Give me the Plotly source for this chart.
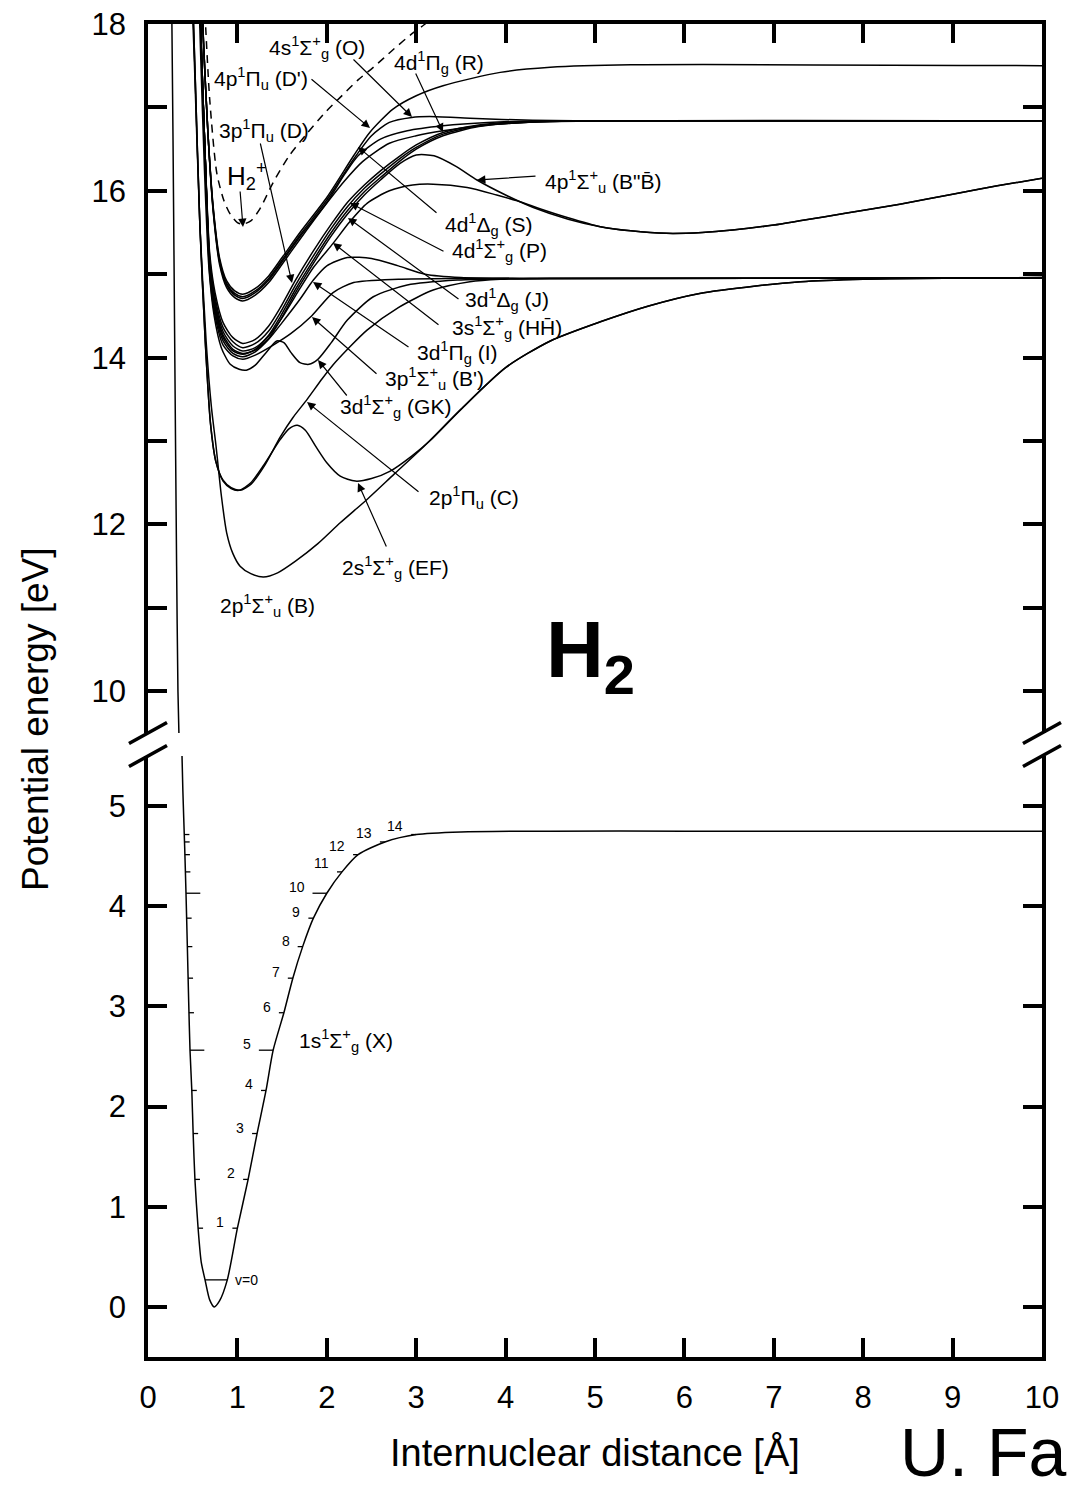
import plotly.graph_objects as go

# ---------------- data ----------------
x_tickvals = [0, 1, 2, 3, 4, 5, 6, 7, 8, 9, 10]
y_low_tickvals = [0, 1, 2, 3, 4, 5]
y_high_tickvals = [10, 11, 12, 13, 14, 15, 16, 17, 18]
y_high_ticktext = ['10', '', '12', '', '14', '', '16', '', '18']

# ground state X (lower panel)
x_X = [0.375, 0.39, 0.41, 0.425, 0.44, 0.455, 0.47, 0.49, 0.505, 0.525, 0.56, 0.595, 0.638, 0.69, 0.74,
       0.80, 0.887, 1.0, 1.12, 1.22, 1.32, 1.40, 1.52, 1.62, 1.73, 1.85, 2.0, 2.17, 2.35, 2.65, 3.0,
       3.5, 4.5, 6.0, 8.0, 10.0]
E_X = [5.7, 5.15, 4.6, 4.13, 3.6, 3.05, 2.56, 2.16, 1.73, 1.27, 0.79, 0.45, 0.27, 0.07, 0.0,
       0.06, 0.27, 0.786, 1.273, 1.731, 2.161, 2.563, 2.937, 3.282, 3.597, 3.881, 4.13, 4.343, 4.515, 4.642, 4.716,
       4.742, 4.75, 4.75, 4.75, 4.75]
# ground state X inner wall (upper panel)
x_X_up = [0.262, 0.28, 0.30, 0.32, 0.335, 0.35]
E_X_up = [18.6, 16.6, 14.0, 11.5, 10.0, 9.3]

# vibrational levels of X
vib_v = list(range(15))
vib_E = [0.27, 0.786, 1.273, 1.731, 2.161, 2.563, 2.937, 3.282, 3.597, 3.881, 4.13, 4.343, 4.515, 4.642, 4.716]
vib_inner = [0.638, 0.56, 0.525, 0.505, 0.49, 0.47, 0.458, 0.448, 0.44, 0.432, 0.425, 0.418, 0.413, 0.41, 0.407]
vib_outer = [0.887, 1.0, 1.12, 1.22, 1.32, 1.40, 1.52, 1.62, 1.73, 1.85, 2.0, 2.17, 2.35, 2.65, 3.0]

# n = 2 states
x_B = [0.47, 0.52, 0.58, 0.65, 0.71, 0.76, 0.82, 0.88, 0.95, 1.03, 1.15, 1.29, 1.45, 1.65, 1.90, 2.15, 2.45,
       2.75, 3.10, 3.50, 4.00, 4.50, 5.06, 5.60, 6.17, 6.80, 7.30, 8.00, 8.60, 9.20, 10.0]
E_B = [19.0, 17.5, 15.6, 14.2, 13.4, 12.95, 12.35, 11.9, 11.65, 11.5, 11.41, 11.37, 11.42, 11.56, 11.77, 12.02, 12.3,
       12.6, 12.95, 13.38, 13.88, 14.2, 14.43, 14.62, 14.77, 14.86, 14.91, 14.94, 14.95, 14.955, 14.96]
x_C = [0.48, 0.53, 0.58, 0.64, 0.70, 0.76, 0.84, 0.93, 1.03, 1.15, 1.30, 1.48, 1.62, 1.78, 1.95, 2.10, 2.45,
       2.80, 3.19, 3.60, 3.94, 4.50, 10.0]
E_C = [19.0, 17.3, 15.6, 14.2, 13.2, 12.75, 12.53, 12.44, 12.41, 12.48, 12.7, 13.05, 13.28, 13.5, 13.75, 13.95, 14.33,
       14.6, 14.81, 14.91, 14.94, 14.95, 14.955]
x_EF = [0.48, 0.53, 0.58, 0.64, 0.70, 0.76, 0.84, 0.93, 1.02, 1.15, 1.30, 1.48, 1.58, 1.67, 1.76, 1.88, 2.00,
        2.15, 2.32, 2.50, 2.71, 2.95, 3.15, 3.50, 4.00, 4.50, 5.06, 5.60, 6.17, 6.80, 7.30, 8.00, 8.60, 9.20, 10.0]
E_EF = [19.0, 17.3, 15.6, 14.2, 13.2, 12.75, 12.52, 12.43, 12.41, 12.5, 12.72, 13.02, 13.15, 13.19, 13.13, 12.93, 12.74,
        12.58, 12.52, 12.55, 12.64, 12.82, 13.0, 13.38, 13.88, 14.2, 14.43, 14.62, 14.77, 14.86, 14.91, 14.94, 14.95,
        14.955, 14.96]

# n = 3 states
x_GK = [0.55, 0.59, 0.63, 0.68, 0.74, 0.82, 0.92, 1.02, 1.10, 1.20, 1.32, 1.44, 1.52, 1.60, 1.70, 1.80, 1.90,
        2.05, 2.23, 2.52, 2.90, 3.46, 4.27, 10.0]
E_GK = [19.0, 17.6, 16.3, 15.1, 14.5, 14.12, 13.92, 13.86, 13.85, 13.91, 14.06, 14.2, 14.18, 14.06, 13.94, 13.92, 13.98,
        14.18, 14.45, 14.73, 14.87, 14.93, 14.95, 14.955]
x_Bp = [0.56, 0.60, 0.64, 0.69, 0.75, 0.84, 0.95, 1.06, 1.20, 1.40, 1.60, 1.83, 2.07, 2.30, 2.80, 3.50, 10.0]
E_Bp = [19.0, 17.6, 16.4, 15.0, 14.5, 14.15, 14.02, 13.98, 14.03, 14.15, 14.29, 14.5, 14.78, 14.9, 14.94, 14.95, 14.955]
x_I = [0.56, 0.60, 0.64, 0.69, 0.75, 0.84, 0.95, 1.06, 1.20, 1.35, 1.50, 1.70, 1.85, 2.00, 2.23, 2.50, 2.80,
       3.10, 3.50, 4.20, 10.0]
E_I = [19.0, 17.6, 16.4, 15.05, 14.55, 14.2, 14.05, 14.01, 14.07, 14.22, 14.42, 14.7, 14.93, 15.1, 15.2, 15.19, 15.1,
       15.0, 14.96, 14.95, 14.955]
x_HH = [0.56, 0.60, 0.64, 0.69, 0.75, 0.84, 0.95, 1.06, 1.20, 1.35, 1.50, 1.70, 1.85, 2.07, 2.25, 2.45, 2.70,
        2.96, 3.19, 3.57, 3.90, 4.13, 4.40, 4.69, 5.06, 5.40, 5.80, 6.20, 6.54, 7.00, 7.29, 7.80, 8.41, 9.00,
        9.50, 10.0]
E_HH = [19.0, 17.6, 16.4, 15.1, 14.6, 14.24, 14.08, 14.04, 14.1, 14.26, 14.48, 14.83, 15.08, 15.37, 15.62, 15.85, 16.0,
        16.07, 16.08, 16.04, 15.95, 15.88, 15.78, 15.68, 15.57, 15.52, 15.49, 15.5, 15.53, 15.59, 15.64, 15.73, 15.84,
        15.96, 16.06, 16.15]
x_n3 = [0.56, 0.60, 0.64, 0.69, 0.75, 0.84, 0.95, 1.06, 1.20, 1.35, 1.48, 1.65, 1.85, 2.05, 2.23, 2.42, 2.60,
        2.82, 3.00, 3.30, 3.70, 4.20, 5.00, 10.0]
E_D = [19.0, 17.6, 16.4, 15.25, 14.78, 14.42, 14.24, 14.17, 14.22, 14.38, 14.6, 14.93, 15.28, 15.6, 15.86, 16.07, 16.24,
       16.42, 16.55, 16.7, 16.79, 16.83, 16.84, 16.84]
E_J = [19.0, 17.6, 16.4, 15.2, 14.72, 14.36, 14.19, 14.12, 14.17, 14.32, 14.54, 14.87, 15.22, 15.55, 15.81, 16.03, 16.2,
       16.39, 16.52, 16.68, 16.78, 16.82, 16.84, 16.84]
E_P = [19.0, 17.6, 16.4, 15.15, 14.67, 14.31, 14.14, 14.08, 14.12, 14.27, 14.49, 14.82, 15.17, 15.5, 15.76, 15.99, 16.16,
       16.36, 16.5, 16.66, 16.77, 16.82, 16.84, 16.84]
x_Bpp = [0.56, 0.60, 0.64, 0.69, 0.75, 0.84, 0.95, 1.06, 1.20, 1.35, 1.48, 1.65, 1.85, 2.05, 2.23, 2.42, 2.60,
         2.82, 3.00, 3.20, 3.45, 3.68, 4.00, 4.31, 4.70, 5.06, 5.40, 5.80, 6.20, 6.54, 7.00, 7.29, 7.80, 8.41,
         9.00, 9.50, 10.0]
E_Bpp = [19.0, 17.6, 16.4, 15.1, 14.62, 14.27, 14.1, 14.05, 14.09, 14.23, 14.45, 14.78, 15.13, 15.46, 15.72, 15.95, 16.13,
         16.33, 16.43, 16.42, 16.29, 16.13, 15.95, 15.8, 15.66, 15.57, 15.52, 15.49, 15.5, 15.53, 15.59, 15.64, 15.73,
         15.84, 15.96, 16.06, 16.15]

# n = 4 states
x_Dp = [0.58, 0.62, 0.67, 0.73, 0.80, 0.88, 0.97, 1.06, 1.20, 1.35, 1.50, 1.70, 2.00, 2.30, 2.48, 2.74, 3.00,
        3.30, 3.94, 4.50, 5.40, 10.0]
E_Dp = [19.0, 17.8, 16.7, 15.8, 15.2, 14.92, 14.8, 14.76, 14.83, 14.98, 15.2, 15.5, 15.92, 16.42, 16.7, 16.98, 17.14,
        17.26, 17.42, 17.48, 17.51, 17.5]
x_O = [0.58, 0.62, 0.67, 0.73, 0.80, 0.88, 0.97, 1.06, 1.20, 1.35, 1.50, 1.70, 2.00, 2.30, 2.50, 2.70, 2.95,
       3.15, 3.60, 4.30, 5.00, 10.0]
E_O = [19.0, 17.8, 16.7, 15.78, 15.17, 14.89, 14.77, 14.73, 14.8, 14.95, 15.17, 15.47, 15.89, 16.38, 16.66, 16.82, 16.88,
       16.89, 16.87, 16.845, 16.84, 16.84]
x_R = [0.58, 0.62, 0.67, 0.73, 0.80, 0.88, 0.97, 1.06, 1.20, 1.35, 1.50, 1.70, 1.92, 2.20, 2.40, 2.70, 3.00,
       3.30, 3.80, 4.50, 10.0]
E_R = [19.0, 17.8, 16.7, 15.74, 15.12, 14.84, 14.72, 14.68, 14.75, 14.9, 15.12, 15.42, 15.74, 16.12, 16.35, 16.57, 16.66,
       16.72, 16.79, 16.83, 16.84]
x_S = [0.58, 0.62, 0.67, 0.73, 0.80, 0.88, 0.97, 1.06, 1.20, 1.35, 1.50, 1.70, 2.00, 2.20, 2.35, 2.60, 2.90,
       3.30, 3.80, 4.50, 10.0]
E_S = [19.0, 17.8, 16.7, 15.76, 15.15, 14.87, 14.75, 14.71, 14.78, 14.93, 15.15, 15.45, 15.86, 16.2, 16.42, 16.62, 16.72,
       16.78, 16.82, 16.84, 16.84]

# H2+ ion ground state (dashed)
x_ion = [0.63, 0.69, 0.77, 0.85, 0.92, 1.00, 1.06, 1.15, 1.25, 1.40, 1.58, 1.78, 2.00, 2.15, 2.35, 2.52, 2.75,
         2.96, 3.10, 3.30]
E_ion = [18.3, 17.1, 16.21, 15.88, 15.72, 15.62, 15.6, 15.64, 15.78, 16.1, 16.42, 16.69, 16.96, 17.12, 17.33, 17.48, 17.7,
         17.89, 18.0, 18.2]

state_texts = [
    '4s<sup>1</sup>Σ<sup>+</sup><sub>g</sub> (O)',
    "4p<sup>1</sup>Π<sub>u</sub> (D')",
    '4d<sup>1</sup>Π<sub>g</sub> (R)',
    '3p<sup>1</sup>Π<sub>u</sub> (D)',
    '4p<sup>1</sup>Σ<sup>+</sup><sub>u</sub> (B"B\u0304)',
    '4d<sup>1</sup>Δ<sub>g</sub> (S)',
    '4d<sup>1</sup>Σ<sup>+</sup><sub>g</sub> (P)',
    '3d<sup>1</sup>Δ<sub>g</sub> (J)',
    '3s<sup>1</sup>Σ<sup>+</sup><sub>g</sub> (HH\u0304)',
    '3d<sup>1</sup>Π<sub>g</sub> (I)',
    "3p<sup>1</sup>Σ<sup>+</sup><sub>u</sub> (B')",
    '3d<sup>1</sup>Σ<sup>+</sup><sub>g</sub> (GK)',
    '2p<sup>1</sup>Π<sub>u</sub> (C)',
    '2s<sup>1</sup>Σ<sup>+</sup><sub>g</sub> (EF)',
    '2p<sup>1</sup>Σ<sup>+</sup><sub>u</sub> (B)',
    '1s<sup>1</sup>Σ<sup>+</sup><sub>g</sub> (X)',
]
ion_text = 'H<sub>2</sub><sup>+</sup>'
molecule_text = '<b>H<sub>2</sub></b>'
x_title = 'Internuclear distance [Å]'
y_title = 'Potential energy [eV]'
author_text = 'U. Fantz'

# ---------------- figure ----------------
FW, FH = 1067, 1487
ML, MR, MT, MB = 148, 25, 24, 130
PW, PH = FW - ML - MR, FH - MT - MB
FONT = 'Liberation Sans'


def P(px, py):
    """pixel position in the page -> paper coordinates"""
    return (px - ML) / PW, (FH - MB - py) / PH


fig = go.Figure()

LINE = dict(color='black', width=1.5, shape='spline', smoothing=0.7)


def add_up(x, y, dash='solid'):
    fig.add_trace(go.Scatter(x=x, y=y, xaxis='x2', yaxis='y2', mode='lines',
                             line=dict(LINE, dash=dash), hoverinfo='skip', showlegend=False))


for xs, ys in [(x_X_up, E_X_up), (x_B, E_B), (x_C, E_C), (x_EF, E_EF), (x_GK, E_GK), (x_Bp, E_Bp),
               (x_I, E_I), (x_HH, E_HH), (x_n3, E_D), (x_n3, E_J), (x_n3, E_P), (x_Bpp, E_Bpp),
               (x_Dp, E_Dp), (x_O, E_O), (x_R, E_R), (x_S, E_S)]:
    add_up(xs, ys)
add_up(x_ion, E_ion, dash='8px,6px')

# lower panel: X state
fig.add_trace(go.Scatter(x=x_X, y=E_X, xaxis='x', yaxis='y', mode='lines', line=LINE,
                         hoverinfo='skip', showlegend=False))

# vibrational level markers
SHORT, LONG = 0.056, 0.16
vx, vy = [], []
for v, e, xi, xo in zip(vib_v, vib_E, vib_inner, vib_outer):
    if v == 0:
        vx += [xi, xo, None]
        vy += [e, e, None]
        continue
    ln = LONG if v in (5, 10) else SHORT
    vx += [xi, xi + ln, None, xo - ln, xo, None]
    vy += [e, e, None, e, e, None]
fig.add_trace(go.Scatter(x=vx, y=vy, xaxis='x', yaxis='y', mode='lines',
                         line=dict(color='black', width=1.3), hoverinfo='skip', showlegend=False))

annotations = []
for v, e, xo in zip(vib_v, vib_E, vib_outer):
    if v == 0:
        annotations.append(dict(x=xo, y=e, xref='x', yref='y', text='v=0', showarrow=False,
                                xanchor='left', yanchor='middle', xshift=6, font=dict(size=14)))
    else:
        ln = LONG if v in (5, 10) else SHORT
        annotations.append(dict(x=xo - ln, y=e, xref='x', yref='y', text=str(v), showarrow=False,
                                xanchor='right', yanchor='middle', xshift=-6, yshift=6 if v < 11 else 9,
                                font=dict(size=14)))

# state labels (left edge px, centre y px)
label_pos = [(267, 48), (212, 78), (392, 63), (217, 130), (543, 182), (443, 224), (450, 250),
             (463, 300), (450, 327), (415, 353), (383, 378), (338, 406), (427, 497), (340, 567),
             (218, 605), (297, 1040)]
for txt, (lx, ly) in zip(state_texts, label_pos):
    px_, py_ = P(lx, ly)
    annotations.append(dict(x=px_, y=py_, xref='paper', yref='paper', text=txt, showarrow=False,
                            xanchor='left', yanchor='middle', font=dict(size=21)))

ix, iy = P(225, 176)
annotations.append(dict(x=ix, y=iy, xref='paper', yref='paper', text=ion_text, showarrow=False,
                        xanchor='left', yanchor='middle', font=dict(size=26)))
hx, hy = P(590, 655)
annotations.append(dict(x=hx, y=hy, xref='paper', yref='paper', text=molecule_text, showarrow=False,
                        xanchor='center', yanchor='middle', font=dict(size=80)))

# arrows (tail px -> head px)
arrows = [((352, 58), (412, 117)), ((310, 78), (370, 128)), ((415, 72), (443, 132)),
          ((260, 142), (292, 283)), ((240, 190), (243, 227)), ((537, 176), (477, 180)),
          ((438, 214), (358, 147)), ((445, 252), (350, 203)), ((460, 300), (348, 218)),
          ((440, 326), (333, 243)), ((410, 348), (313, 282)), ((378, 375), (312, 317)),
          ((348, 397), (318, 360)), ((420, 493), (307, 402)), ((387, 548), (358, 483))]
for (tx, ty), (hx_, hy_) in arrows:
    ax_, ay_ = P(hx_, hy_)
    annotations.append(dict(x=ax_, y=ay_, xref='paper', yref='paper', text='', showarrow=True,
                            ax=tx - hx_, ay=ty - hy_, arrowhead=2, arrowsize=1.4, arrowwidth=1.2,
                            arrowcolor='black', standoff=0, startstandoff=0))

# axis titles and author
annotations.append(dict(x=0.5, y=0, xref='paper', yref='paper', text=x_title, showarrow=False,
                        xanchor='center', yanchor='middle', yshift=-95, font=dict(size=38)))
_, yt = P(0, 719)
annotations.append(dict(x=0, y=yt, xref='paper', yref='paper', text=y_title, showarrow=False,
                        textangle=-90, xanchor='center', yanchor='middle', xshift=-112, font=dict(size=37)))
ux, uy = P(898, 1452)
annotations.append(dict(x=ux, y=uy, xref='paper', yref='paper', text=author_text, showarrow=False,
                        xanchor='left', yanchor='middle', font=dict(size=68)))

# axis-break marks
shapes = []
for xp in (0, 1):
    for py in (733, 756):
        _, yp = P(0, py)
        shapes.append(dict(type='line', xref='paper', yref='paper', xsizemode='pixel', ysizemode='pixel',
                           xanchor=xp, yanchor=yp, x0=-19, x1=19, y0=-10.5, y1=10.5,
                           line=dict(color='black', width=3.5)))

_, top_lo = P(0, 733)
_, bot_hi = P(0, 756)

AX = dict(showline=True, linewidth=3.5, linecolor='black', ticks='inside', ticklen=19, tickwidth=3.5,
          tickcolor='black', showgrid=False, zeroline=False, tickfont=dict(size=31))

fig.update_layout(
    width=FW, height=FH, margin=dict(l=ML, r=MR, t=MT, b=MB, autoexpand=False),
    paper_bgcolor='white', plot_bgcolor='white',
    font=dict(family=FONT, color='black'),
    xaxis=dict(AX, domain=[0, 1], range=[0, 10], anchor='y', tickvals=x_tickvals, ticklabelstandoff=10),
    xaxis2=dict(AX, domain=[0, 1], range=[0, 10], anchor='y2', side='top', tickvals=x_tickvals,
                showticklabels=False),
    yaxis=dict(AX, domain=[0, bot_hi], range=[-0.5, 5.5], anchor='x', tickvals=y_low_tickvals,
               mirror='allticks', ticklabelstandoff=12),
    yaxis2=dict(AX, domain=[top_lo, 1], range=[9.5, 18], anchor='x2', tickvals=y_high_tickvals,
                ticktext=y_high_ticktext, mirror='allticks', ticklabelstandoff=12),
    annotations=annotations,
    shapes=shapes,
    showlegend=False,
)

fig.write_html("out.html")
